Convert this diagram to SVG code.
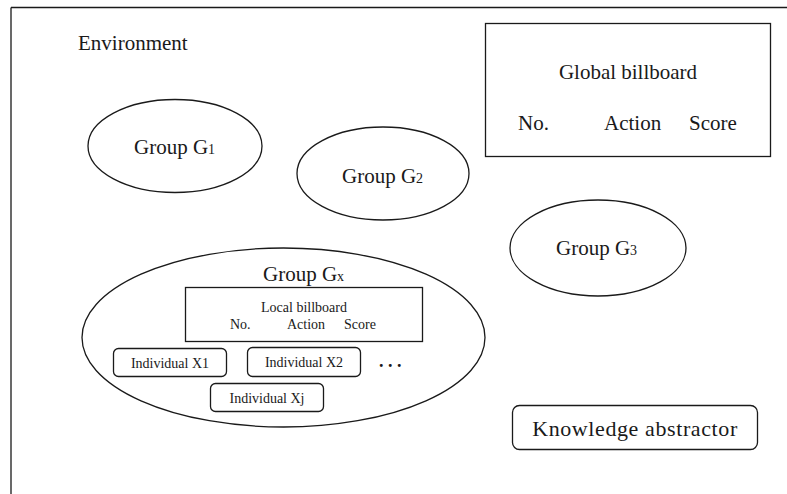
<svg xmlns="http://www.w3.org/2000/svg" width="787" height="494" viewBox="0 0 787 494" font-family="'Liberation Serif', 'DejaVu Serif', serif">
<style>
text{font-family:"Liberation Serif","DejaVu Serif",serif;fill:#1a1a1a}
.big{font-size:21px}
.sub{font-size:14px}
.sm{font-size:14px}
.shape{fill:none;stroke:#1a1a1a;stroke-width:1.3}
</style>
<rect width="787" height="494" fill="#fff"/>
<g id="frame">
<path class="shape" d="M11,7.5 H787 M11,7.5 V494"/>
<text class="big" x="78" y="50">Environment</text>
</g>
<g id="global-billboard">
<rect class="shape" x="485.5" y="23.5" width="285" height="133"/>
<text class="big" x="628" y="79" text-anchor="middle">Global billboard</text>
<text class="big" x="518" y="130">No.</text>
<text class="big" x="604" y="130">Action</text>
<text class="big" x="689" y="130">Score</text>
</g>
<g id="group-g1">
<ellipse class="shape" cx="175" cy="146" rx="87" ry="46.5"/>
<text class="big" x="134" y="154">Group G<tspan class="sub">1</tspan></text>
</g>
<g id="group-g2">
<ellipse class="shape" cx="383" cy="173.5" rx="86" ry="46.5"/>
<text class="big" x="342" y="183">Group G<tspan class="sub">2</tspan></text>
</g>
<g id="group-g3">
<ellipse class="shape" cx="598" cy="248" rx="88" ry="48"/>
<text class="big" x="556" y="255">Group G<tspan class="sub">3</tspan></text>
</g>
<g id="group-gx">
<ellipse class="shape" cx="283.5" cy="337.5" rx="201.5" ry="89.5" stroke-width="1.6"/>
<text class="big" x="263" y="281">Group G<tspan class="sub">x</tspan></text>
</g>
<g id="local-billboard">
<rect class="shape" x="185.5" y="287.5" width="237" height="54"/>
<text class="sm" x="304" y="312" text-anchor="middle">Local billboard</text>
<text class="sm" x="230" y="329">No.</text>
<text class="sm" x="287" y="329">Action</text>
<text class="sm" x="344" y="329">Score</text>
</g>
<g id="individual-x1">
<rect class="shape" x="113.5" y="348.5" width="113" height="28" rx="5"/>
<text class="sm" x="170" y="368" text-anchor="middle">Individual X1</text>
</g>
<g id="individual-x2">
<rect class="shape" x="247.5" y="347.5" width="113" height="29" rx="5"/>
<text class="sm" x="304" y="367" text-anchor="middle">Individual X2</text>
</g>
<g id="ellipsis">
<text x="379" y="367" font-size="18" font-weight="bold" letter-spacing="4.5">...</text>
</g>
<g id="individual-xj">
<rect class="shape" x="210.5" y="383.5" width="113" height="28" rx="5"/>
<text class="sm" x="267" y="403" text-anchor="middle">Individual Xj</text>
</g>
<g id="knowledge-abstractor">
<rect class="shape" x="512.5" y="405.5" width="245" height="44" rx="7"/>
<text x="635" y="436" text-anchor="middle" font-size="22" letter-spacing="0.6">Knowledge abstractor</text>
</g>
<g id="connectors"></g>
</svg>
